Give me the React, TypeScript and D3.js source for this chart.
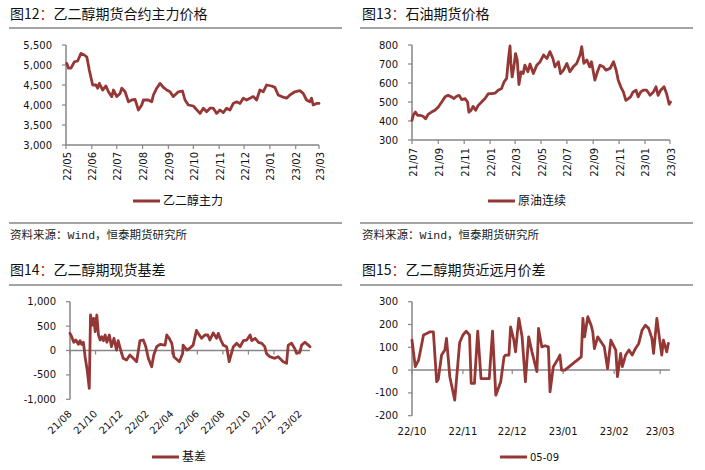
import React from "react";
import * as d3 from "d3";

type P = [string, number];

// 图12 乙二醇主力 (CNY/t)
const megSeries: P[] = [
  ["2022-05-02", 5040], ["2022-05-04", 4920], ["2022-05-07", 4920], ["2022-05-11", 5080], ["2022-05-15", 5100],
  ["2022-05-19", 5290], ["2022-05-23", 5250], ["2022-05-26", 5200], ["2022-05-29", 4875], ["2022-06-02", 4500],
  ["2022-06-06", 4500], ["2022-06-08", 4420], ["2022-06-10", 4540], ["2022-06-14", 4375], ["2022-06-18", 4475],
  ["2022-06-21", 4330], ["2022-06-25", 4210], ["2022-06-27", 4375], ["2022-07-01", 4210], ["2022-07-05", 4290],
  ["2022-07-07", 4420], ["2022-07-11", 4330], ["2022-07-15", 4080], ["2022-07-19", 4125], ["2022-07-23", 4140],
  ["2022-07-27", 3875], ["2022-07-31", 4000], ["2022-08-02", 4125], ["2022-08-08", 4125], ["2022-08-12", 4080],
  ["2022-08-14", 4250], ["2022-08-18", 4420], ["2022-08-22", 4540], ["2022-08-26", 4440], ["2022-08-30", 4375],
  ["2022-09-03", 4330], ["2022-09-07", 4210], ["2022-09-13", 4330], ["2022-09-18", 4350], ["2022-09-21", 4125],
  ["2022-09-25", 4000], ["2022-10-01", 3975], ["2022-10-09", 3790], ["2022-10-13", 3920], ["2022-10-17", 3830],
  ["2022-10-21", 3920], ["2022-10-25", 3920], ["2022-10-29", 3790], ["2022-11-02", 3875], ["2022-11-06", 3810],
  ["2022-11-10", 3920], ["2022-11-14", 3875], ["2022-11-18", 4040], ["2022-11-22", 4080], ["2022-11-26", 4040],
  ["2022-11-30", 4170], ["2022-12-04", 4125], ["2022-12-08", 4170], ["2022-12-12", 4210], ["2022-12-16", 4125],
  ["2022-12-20", 4375], ["2022-12-24", 4330], ["2022-12-28", 4500], ["2023-01-03", 4475], ["2023-01-07", 4440],
  ["2023-01-11", 4250], ["2023-01-15", 4210], ["2023-01-21", 4170], ["2023-01-25", 4250], ["2023-01-31", 4330],
  ["2023-02-06", 4360], ["2023-02-10", 4290], ["2023-02-14", 4125], ["2023-02-18", 4080], ["2023-02-20", 4170],
  ["2023-02-22", 4000], ["2023-02-26", 4040], ["2023-03-01", 4040],
];

// 图13 原油连续
const oilSeries: P[] = [
  ["2021-07-01", 403], ["2021-07-04", 430], ["2021-07-09", 447], ["2021-07-14", 430], ["2021-07-20", 430],
  ["2021-07-27", 425], ["2021-08-02", 412], ["2021-08-08", 435], ["2021-08-16", 447], ["2021-08-24", 456],
  ["2021-09-01", 474], ["2021-09-09", 500], ["2021-09-17", 527], ["2021-09-24", 535], ["2021-10-02", 527],
  ["2021-10-08", 518], ["2021-10-14", 530], ["2021-10-20", 535], ["2021-10-26", 513], ["2021-11-03", 518],
  ["2021-11-09", 500], ["2021-11-12", 447], ["2021-11-17", 456], ["2021-11-22", 477], ["2021-11-28", 456],
  ["2021-12-04", 482], ["2021-12-12", 500], ["2021-12-20", 518], ["2021-12-28", 544], ["2022-01-05", 544],
  ["2022-01-13", 547], ["2022-01-20", 562], ["2022-01-28", 571], ["2022-02-03", 606], ["2022-02-09", 624],
  ["2022-02-13", 721], ["2022-02-17", 795], ["2022-02-19", 703], ["2022-02-22", 632], ["2022-02-26", 685],
  ["2022-03-02", 755], ["2022-03-06", 721], ["2022-03-10", 592], ["2022-03-15", 659], ["2022-03-20", 650],
  ["2022-03-24", 694], ["2022-03-31", 659], ["2022-04-05", 700], ["2022-04-13", 650], ["2022-04-21", 694],
  ["2022-04-29", 712], ["2022-05-07", 747], ["2022-05-15", 729], ["2022-05-22", 765], ["2022-05-29", 729],
  ["2022-06-03", 685], ["2022-06-11", 712], ["2022-06-16", 650], ["2022-06-23", 668], ["2022-07-01", 703],
  ["2022-07-08", 659], ["2022-07-16", 685], ["2022-07-24", 703], ["2022-08-01", 747], ["2022-08-05", 791],
  ["2022-08-10", 703], ["2022-08-17", 721], ["2022-08-24", 685], ["2022-08-28", 712], ["2022-09-05", 615],
  ["2022-09-11", 659], ["2022-09-17", 694], ["2022-09-25", 685], ["2022-10-01", 668], ["2022-10-11", 677],
  ["2022-10-19", 712], ["2022-10-25", 668], ["2022-10-30", 615], ["2022-11-05", 580], ["2022-11-11", 553],
  ["2022-11-17", 509], ["2022-11-23", 518], ["2022-11-28", 527], ["2022-12-04", 553], ["2022-12-11", 562],
  ["2022-12-16", 527], ["2022-12-22", 553], ["2022-12-28", 562], ["2023-01-05", 562], ["2023-01-13", 535],
  ["2023-01-21", 553], ["2023-01-27", 580], ["2023-02-01", 535], ["2023-02-07", 562], ["2023-02-15", 580],
  ["2023-02-21", 544], ["2023-02-27", 488], ["2023-03-02", 500],
];

// 图14 基差
const basisSeries: P[] = [
  ["2021-08-01", 352], ["2021-08-05", 283], ["2021-08-10", 168], ["2021-08-15", 215], ["2021-08-21", 127],
  ["2021-08-25", 201], ["2021-08-29", 127], ["2021-09-02", 168], ["2021-09-06", -127], ["2021-09-11", -400],
  ["2021-09-16", -775], ["2021-09-19", 727], ["2021-09-24", 522], ["2021-09-27", 660], ["2021-09-30", 385],
  ["2021-10-04", 727], ["2021-10-08", 318], ["2021-10-12", 215], ["2021-10-16", 283], ["2021-10-20", 201],
  ["2021-10-24", 318], ["2021-10-28", 168], ["2021-11-03", 318], ["2021-11-08", 78], ["2021-11-14", 250],
  ["2021-11-20", 10], ["2021-11-24", 201], ["2021-11-30", 10], ["2021-12-06", -160], ["2021-12-14", -195],
  ["2021-12-22", -92], ["2021-12-30", -160], ["2022-01-07", -229], ["2022-01-15", 201], ["2022-01-23", 215],
  ["2022-01-29", 78], ["2022-02-04", -160], ["2022-02-12", -332], ["2022-02-17", -92], ["2022-02-24", 78],
  ["2022-03-04", 127], ["2022-03-16", 110], ["2022-03-20", 318], ["2022-03-26", 250], ["2022-04-01", 147],
  ["2022-04-06", -127], ["2022-04-19", -229], ["2022-04-27", -60], ["2022-04-28", 110], ["2022-05-07", 10],
  ["2022-05-14", 45], ["2022-05-22", 110], ["2022-05-30", 413], ["2022-06-03", 352], ["2022-06-11", 250],
  ["2022-06-19", 318], ["2022-06-26", 318], ["2022-07-01", 215], ["2022-07-09", 360], ["2022-07-17", 250],
  ["2022-07-21", 352], ["2022-07-27", 215], ["2022-08-02", 110], ["2022-08-10", 78], ["2022-08-16", -229],
  ["2022-08-26", 78], ["2022-09-03", 147], ["2022-09-11", 78], ["2022-09-19", 201], ["2022-09-27", 215],
  ["2022-10-05", 318], ["2022-10-09", 201], ["2022-10-17", 250], ["2022-10-25", 168], ["2022-11-02", 147],
  ["2022-11-09", 78], ["2022-11-13", -60], ["2022-11-21", -127], ["2022-12-03", -160], ["2022-12-11", -127],
  ["2022-12-23", -229], ["2022-12-31", -262], ["2023-01-04", 110], ["2023-01-12", 147], ["2023-01-20", 30],
  ["2023-01-24", -60], ["2023-02-01", -30], ["2023-02-05", 110], ["2023-02-13", 168], ["2023-02-21", 110],
  ["2023-02-25", 78],
];

// 图15 05-09
const spreadSeries: P[] = [
  ["2022-10-01", 131], ["2022-10-03", 15], ["2022-10-05", 44], ["2022-10-06", 80], ["2022-10-08", 154],
  ["2022-10-10", 161], ["2022-10-12", 168], ["2022-10-14", 168], ["2022-10-16", -51], ["2022-10-17", -40],
  ["2022-10-19", 66], ["2022-10-21", 88], ["2022-10-22", 139], ["2022-10-24", -29], ["2022-10-27", -132],
  ["2022-10-30", 121], ["2022-11-01", 154], ["2022-11-03", 171], ["2022-11-05", 154], ["2022-11-06", -58],
  ["2022-11-08", -58], ["2022-11-10", 171], ["2022-11-12", -37], ["2022-11-15", -37], ["2022-11-17", -37],
  ["2022-11-19", 171], ["2022-11-21", -110], ["2022-11-24", -51], ["2022-11-26", 58], ["2022-11-27", 66],
  ["2022-11-29", 66], ["2022-11-30", 190], ["2022-12-02", 131], ["2022-12-03", 80], ["2022-12-04", 154],
  ["2022-12-05", 227], ["2022-12-07", 146], ["2022-12-09", -51], ["2022-12-11", 146], ["2022-12-13", 80],
  ["2022-12-16", -7], ["2022-12-17", 183], ["2022-12-19", 102], ["2022-12-21", 107], ["2022-12-23", 102],
  ["2022-12-24", -95], ["2022-12-26", 15], ["2022-12-29", 51], ["2022-12-30", 66], ["2022-12-31", 0],
  ["2023-01-02", 0], ["2023-01-12", 58], ["2023-01-13", 227], ["2023-01-14", 146], ["2023-01-16", 234],
  ["2023-01-18", 197], ["2023-01-19", 168], ["2023-01-20", 94], ["2023-01-22", 146], ["2023-01-24", 124],
  ["2023-01-26", 102], ["2023-01-28", 7], ["2023-01-30", 131], ["2023-02-02", 88], ["2023-02-03", -29],
  ["2023-02-05", 73], ["2023-02-06", 15], ["2023-02-08", 66], ["2023-02-10", 88], ["2023-02-12", 66],
  ["2023-02-14", 95], ["2023-02-16", 117], ["2023-02-18", 175], ["2023-02-20", 197], ["2023-02-22", 183],
  ["2023-02-24", 139], ["2023-02-25", 73], ["2023-02-27", 227], ["2023-03-01", 117], ["2023-03-02", 66],
  ["2023-03-03", 131], ["2023-03-05", 80], ["2023-03-06", 117],
];

const megXTicks = ["22/05", "22/06", "22/07", "22/08", "22/09", "22/10", "22/11", "22/12", "23/01", "23/02", "23/03"];
const megYTicks = [3000, 3500, 4000, 4500, 5000, 5500];
const oilXTicks = ["21/07", "21/09", "21/11", "22/01", "22/03", "22/05", "22/07", "22/09", "22/11", "23/01", "23/03"];
const oilYTicks = [300, 400, 500, 600, 700, 800];
const basisXTicks = ["21/08", "21/10", "21/12", "22/02", "22/04", "22/06", "22/08", "22/10", "22/12", "23/02"];
const basisYTicks = [-1000, -500, 0, 500, 1000];
const spreadXTicks = ["22/10", "22/11", "22/12", "23/01", "23/02", "23/03"];
const spreadYTicks = [-200, -100, 0, 100, 200, 300];

const LINE = "#953735";
const AXIS = "#868686";
const SEP = "#a3a3a3";
const CJK = "'Noto Sans CJK SC', 'Noto Sans', sans-serif";
const NUM = "'DejaVu Sans', sans-serif";

const parseDay = d3.timeParse("%Y-%m-%d");
const monthOf = (s: string) => new Date(2000 + Number(s.slice(0, 2)), Number(s.slice(3)) - 1, 1);
const fmt = d3
  .formatLocale({ decimal: ".", thousands: ",", grouping: [3], currency: ["", ""], minus: "-" })
  .format(",");

type PlotProps = {
  series: P[];
  x: d3.ScaleTime<number, number>;
  y: d3.ScaleLinear<number, number>;
  xTicks: string[];
  yTicks: number[];
  axisY: number;
  mode: "v" | "d" | "h";
  labelY: number;
};

function Plot({ series, x, y, xTicks, yTicks, axisY, mode, labelY }: PlotProps) {
  const [x0, x1] = x.range();
  const [yb, yt] = y.range();
  const line = d3
    .line<P>()
    .x((d) => x(parseDay(d[0]) as Date))
    .y((d) => y(d[1]));
  return (
    <g>
      <line x1={x0} x2={x0} y1={yt} y2={yb} stroke={AXIS} strokeWidth={1.5} />
      {yTicks.map((t) => (
        <g key={t}>
          <line x1={x0 - 4} x2={x0} y1={y(t)} y2={y(t)} stroke={AXIS} strokeWidth={1.2} />
          <text x={x0 - 14} y={y(t)} dy="0.35em" textAnchor="end" fontFamily={NUM} fontSize={10} fill="#111">
            {fmt(t)}
          </text>
        </g>
      ))}
      <line x1={x0} x2={x1} y1={axisY} y2={axisY} stroke={AXIS} strokeWidth={1.5} />
      {xTicks.map((t) => {
        const px = x(monthOf(t));
        let label;
        if (mode === "v") {
          label = (
            <text
              transform={`translate(${px + 1},${labelY}) rotate(-90)`}
              dy="0.35em"
              textAnchor="end"
              fontFamily={NUM}
              fontSize={10}
              fill="#111"
            >
              {t}
            </text>
          );
        } else if (mode === "d") {
          label = (
            <text
              transform={`translate(${px},${labelY}) rotate(-45)`}
              dy="0.35em"
              textAnchor="end"
              fontFamily={NUM}
              fontSize={10}
              fill="#111"
            >
              {t}
            </text>
          );
        } else {
          label = (
            <text x={px} y={labelY} textAnchor="middle" fontFamily={NUM} fontSize={10} fill="#111">
              {t}
            </text>
          );
        }
        return (
          <g key={t}>
            <line x1={px} x2={px} y1={axisY} y2={axisY + 4} stroke={AXIS} strokeWidth={1.2} />
            {label}
          </g>
        );
      })}
      <path
        d={line(series) || ""}
        fill="none"
        stroke={LINE}
        strokeWidth={2.8}
        strokeLinejoin="round"
        strokeLinecap="round"
      />
    </g>
  );
}

function Title({ x, y, num, text }: { x: number; y: number; num: string; text: string }) {
  return (
    <text x={x} y={y} fontFamily={CJK} fontSize={14} fill="#111">
      图{num}
      <tspan fill="#e02020">：</tspan>
      {text}
    </text>
  );
}

function Source({ x, y }: { x: number; y: number }) {
  return (
    <text x={x} y={y} fontFamily={CJK} fontSize={11.5} fill="#222">
      资料来源：<tspan fontFamily="'Liberation Mono', monospace">Wind</tspan>，恒泰期货研究所
    </text>
  );
}

function Legend({ x, y, text, num }: { x: number; y: number; text: string; num?: boolean }) {
  return (
    <g>
      <line x1={x} x2={x + 27} y1={y} y2={y} stroke={LINE} strokeWidth={3} />
      <text
        x={x + 30}
        y={y}
        dy="0.35em"
        fontFamily={num ? NUM : CJK}
        fontSize={num ? 10 : 12}
        fill="#111"
      >
        {text}
      </text>
    </g>
  );
}

export default function App() {
  const x1 = d3.scaleTime().domain([new Date(2022, 4, 1), new Date(2023, 2, 1)]).range([66, 319]);
  const y1 = d3.scaleLinear().domain([3000, 5500]).range([145, 45]);
  const x2 = d3.scaleTime().domain([new Date(2021, 6, 1), new Date(2023, 2, 1)]).range([412, 670]);
  const y2 = d3.scaleLinear().domain([300, 800]).range([140, 45]);
  const x3 = d3.scaleTime().domain([new Date(2021, 7, 1), new Date(2023, 1, 25)]).range([70, 310]);
  const y3 = d3.scaleLinear().domain([-1000, 1000]).range([399.3, 301.7]);
  const x4 = d3.scaleTime().domain([new Date(2022, 9, 1), new Date(2023, 2, 7)]).range([412, 670]);
  const y4 = d3.scaleLinear().domain([-200, 300]).range([415.7, 301.7]);

  return (
    <svg
      width={705}
      height={470}
      viewBox="0 0 705 470"
      style={{ position: "absolute", left: 0, top: 0, background: "#fff" }}
    >
      <rect x={0} y={0} width={705} height={470} fill="#fff" />

      {/* Panel 1 */}
      <Title x={10} y={19} num="12" text="乙二醇期货合约主力价格" />
      <line x1={9} x2={342} y1={28} y2={28} stroke={SEP} strokeWidth={1.8} />
      <Plot series={megSeries} x={x1} y={y1} xTicks={megXTicks} yTicks={megYTicks} axisY={145} mode="v" labelY={152} />
      <Legend x={133} y={201} text="乙二醇主力" />
      <line x1={9} x2={342} y1={223} y2={223} stroke={SEP} strokeWidth={1.8} />
      <Source x={10} y={239} />

      {/* Panel 2 */}
      <Title x={362} y={19} num="13" text="石油期货价格" />
      <line x1={360} x2={693} y1={28} y2={28} stroke={SEP} strokeWidth={1.8} />
      <Plot series={oilSeries} x={x2} y={y2} xTicks={oilXTicks} yTicks={oilYTicks} axisY={140} mode="v" labelY={148} />
      <Legend x={488} y={201} text="原油连续" />
      <line x1={360} x2={693} y1={223} y2={223} stroke={SEP} strokeWidth={1.8} />
      <Source x={362} y={239} />

      {/* Panel 3 */}
      <Title x={10} y={275} num="14" text="乙二醇期现货基差" />
      <line x1={9} x2={342} y1={285} y2={285} stroke={SEP} strokeWidth={1.8} />
      <Plot series={basisSeries} x={x3} y={y3} xTicks={basisXTicks} yTicks={basisYTicks} axisY={y3(0)} mode="d" labelY={412} />
      <Legend x={152} y={457} text="基差" />

      {/* Panel 4 */}
      <Title x={362} y={275} num="15" text="乙二醇期货近远月价差" />
      <line x1={360} x2={693} y1={285} y2={285} stroke={SEP} strokeWidth={1.8} />
      <Plot series={spreadSeries} x={x4} y={y4} xTicks={spreadXTicks} yTicks={spreadYTicks} axisY={y4(0)} mode="h" labelY={435} />
      <Legend x={500} y={457} text="05-09" num />
    </svg>
  );
}
